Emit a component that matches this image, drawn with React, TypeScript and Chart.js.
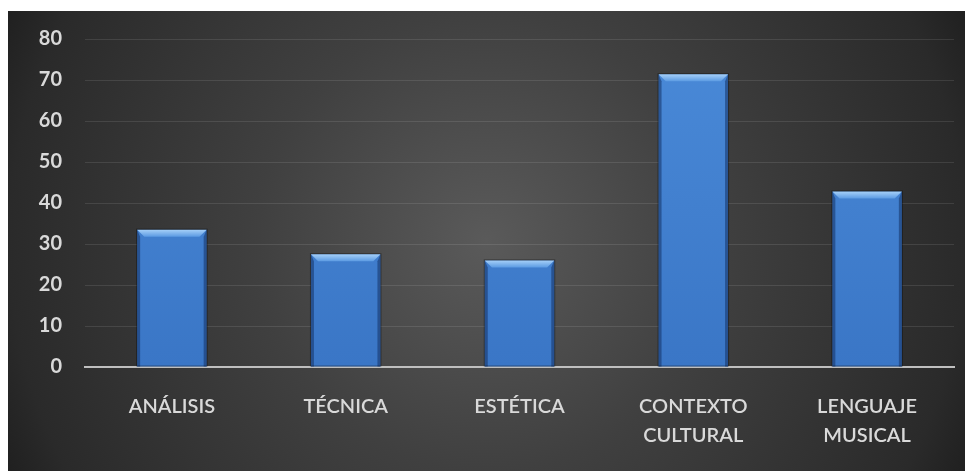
import React, { useEffect, useRef } from "react";
import { Chart, registerables } from "chart.js";

Chart.register(...registerables);

const categories: (string | string[])[] = [
  "ANÁLISIS",
  "TÉCNICA",
  "ESTÉTICA",
  ["CONTEXTO", "CULTURAL"],
  ["LENGUAJE", "MUSICAL"],
];
const values: number[] = [33.5, 27.5, 26, 71.4, 42.8];
const yMin = 0;
const yMax = 80;
const yStep = 10;

const bgPlugin = {
  id: "bgPlugin",
  beforeDraw(chart: any) {
    const { ctx, width, height } = chart;
    ctx.save();
    const cx = width / 2;
    const cy = height / 2;
    const r = Math.sqrt(cx * cx + cy * cy);
    const g = ctx.createRadialGradient(cx, cy, 0, cx, cy, r);
    g.addColorStop(0, "#5a5a5a");
    g.addColorStop(0.43, "#404040");
    g.addColorStop(0.9, "#2a2a2a");
    g.addColorStop(1, "#202020");
    ctx.fillStyle = g;
    ctx.fillRect(0, 0, width, height);
    ctx.restore();
  },
};

const bevelPlugin = {
  id: "bevelPlugin",
  afterDatasetsDraw(chart: any) {
    const { ctx } = chart;
    const meta = chart.getDatasetMeta(0);
    ctx.save();
    meta.data.forEach((bar: any) => {
      const { x, y, base, width } = bar.getProps(["x", "y", "base", "width"], true);
      const l = x - width / 2;
      const r = x + width / 2;
      const t = y;
      const b = base;
      const bt = 7;
      const bs = 3;
      ctx.fillStyle = "rgba(20,50,100,0.55)";
      ctx.beginPath();
      ctx.moveTo(l, t);
      ctx.lineTo(l + bs, t + bt);
      ctx.lineTo(l + bs, b);
      ctx.lineTo(l, b);
      ctx.closePath();
      ctx.fill();
      ctx.beginPath();
      ctx.moveTo(r, t);
      ctx.lineTo(r - bs, t + bt);
      ctx.lineTo(r - bs, b);
      ctx.lineTo(r, b);
      ctx.closePath();
      ctx.fill();
      const tg = ctx.createLinearGradient(0, t, 0, t + bt);
      tg.addColorStop(0, "#a6d0f8");
      tg.addColorStop(1, "#5c9be3");
      ctx.fillStyle = tg;
      ctx.beginPath();
      ctx.moveTo(l, t);
      ctx.lineTo(r, t);
      ctx.lineTo(r - bs * 2.4, t + bt);
      ctx.lineTo(l + bs * 2.4, t + bt);
      ctx.closePath();
      ctx.fill();
      ctx.strokeStyle = "rgba(0,0,0,0.35)";
      ctx.lineWidth = 1;
      ctx.strokeRect(l - 0.5, t - 0.5, width + 1, b - t);
    });
    ctx.restore();
  },
};

export default function App() {
  const ref = useRef<HTMLCanvasElement | null>(null);

  useEffect(() => {
    if (!ref.current) return;
    const chart = new Chart(ref.current, {
      type: "bar",
      data: {
        labels: categories,
        datasets: [
          {
            data: values,
            backgroundColor: (c: any) => {
              const area = c.chart.chartArea;
              if (!area) return "#3d7dcc";
              const g = c.chart.ctx.createLinearGradient(0, area.top, 0, area.bottom);
              g.addColorStop(0, "#4a8ad8");
              g.addColorStop(1, "#3a76c6");
              return g;
            },
            borderWidth: 0,
            barPercentage: 0.4,
            categoryPercentage: 1,
          },
        ],
      },
      options: {
        animation: false,
        responsive: false,
        maintainAspectRatio: false,
        layout: { autoPadding: false, padding: { top: 28, right: 11, left: 0, bottom: 0 } },
        plugins: {
          legend: { display: false },
          tooltip: { enabled: false },
        },
        scales: {
          x: {
            grid: { display: false, drawTicks: false },
            border: { display: true, color: "#bfbfbf", width: 2 },
            ticks: {
              color: "#d9d9d9",
              font: { family: "Lato", size: 20, weight: "600", lineHeight: 1.45 },
              padding: 25,
              maxRotation: 0,
              autoSkip: false,
            },
            afterFit(scale: any) {
              scale.height = 104;
              scale.paddingLeft = 0;
              scale.paddingRight = 0;
            },
          },
          y: {
            min: yMin,
            max: yMax,
            grid: { color: "rgba(255,255,255,0.1)", lineWidth: 1, drawTicks: false },
            border: { display: false },
            ticks: {
              stepSize: yStep,
              color: "#d9d9d9",
              font: { family: "Lato", size: 20, weight: "bold" },
              padding: 23,
            },
            afterFit(scale: any) {
              scale.width = 77;
              scale.paddingTop = 0;
              scale.paddingBottom = 0;
            },
          },
        },
      },
      plugins: [bgPlugin, bevelPlugin],
    } as any);
    return () => chart.destroy();
  }, []);

  return (
    <div style={{ position: "absolute", left: 8, top: 11, width: 957, height: 460 }}>
      <canvas ref={ref} width={957} height={460} style={{ display: "block" }} />
    </div>
  );
}
